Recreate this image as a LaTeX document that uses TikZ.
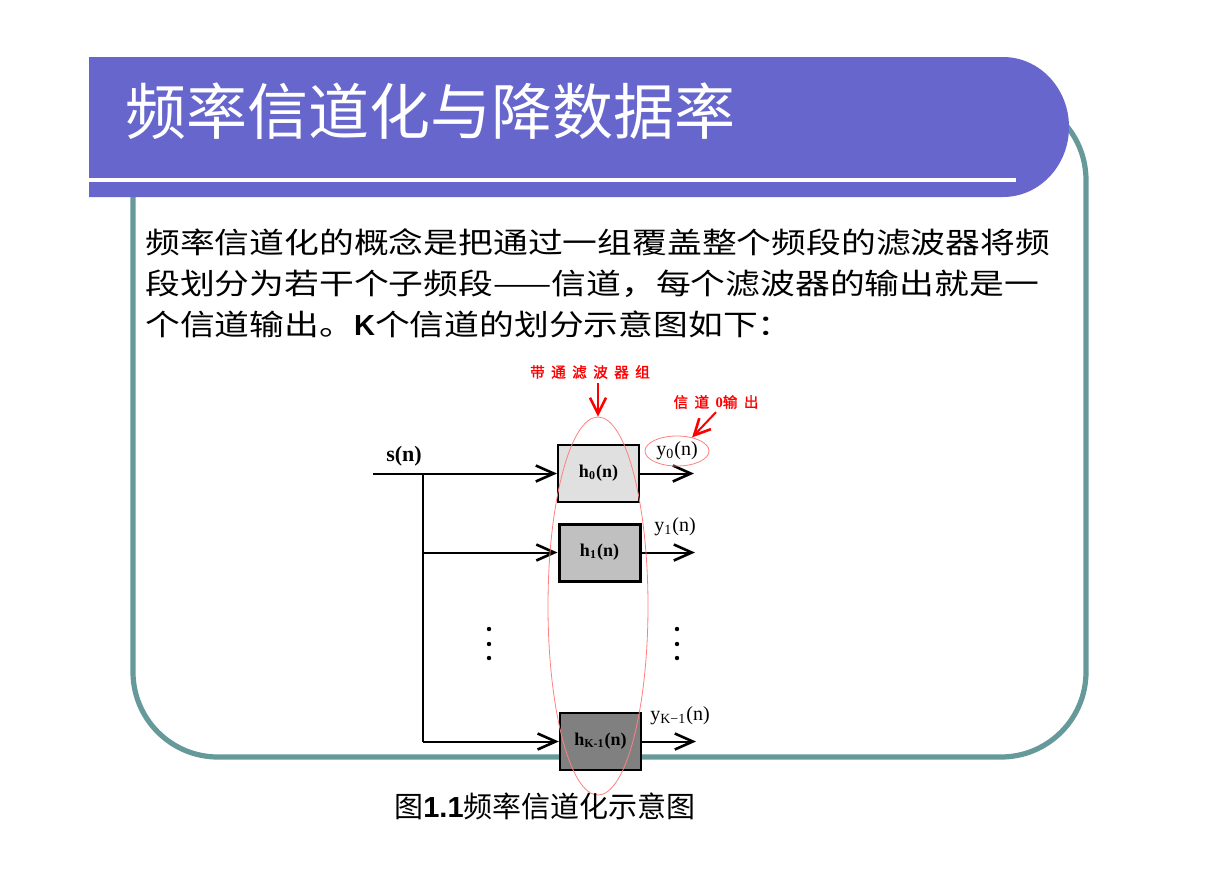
\documentclass[tikz,border=0pt]{standalone}
\usepackage{fontspec}
\setmainfont{Liberation Serif}
\newfontfamily\cjk{Noto Sans CJK SC}
\newfontfamily\cjkw[FakeStretch=1.2]{Noto Sans CJK SC}
\newfontfamily\cjkb[FakeBold=1.6]{Noto Sans CJK SC}
\newfontfamily\lsans{Liberation Sans}
\usetikzlibrary{arrows.meta,shapes.geometric}
\definecolor{barblue}{HTML}{6666CC}
\definecolor{frameteal}{HTML}{669999}
\definecolor{lightred}{HTML}{FF8080}
\definecolor{boxa}{HTML}{E0E0E0}
\definecolor{boxb}{HTML}{C0C0C0}
\definecolor{boxc}{HTML}{808080}
\newcommand{\rg}{\hspace{3.2pt}}
\begin{document}
\begin{tikzpicture}[x=0.5pt,y=-0.5pt,
  filt/.style={draw=black, line width=1.2pt, minimum width=40.5pt, minimum height=28.5pt, inner sep=0pt, font=\fontsize{9}{10}\selectfont\bfseries},
  sig/.style={line width=1pt, -{Straight Barb[length=9pt,width=8pt,line width=1.3pt]}},
  wire/.style={line width=1pt},
  outlbl/.style={inner sep=0pt, font=\fontsize{10}{12}\selectfont},
  redlbl/.style={inner sep=0pt, text=red, font=\fontsize{7.3}{8}\selectfont\cjkb},
  redarrow/.style={red, line width=1pt, -{Straight Barb[length=8pt,width=8pt,line width=1.3pt]}},
  bodyline/.style={anchor=west, inner sep=0pt, font=\fontsize{14.5}{17}\selectfont\cjkw},
  dotc/.style={fill=black}
]
\useasboundingbox (0,0) rectangle (1228,869);
% frame
\draw[frameteal, line width=2.6pt, rounded corners=42.5pt] (133,95) rectangle (1086,757);
% title bar
\fill[barblue] (89,57) -- (1003,57) arc[start angle=-90, end angle=90, x radius=66, y radius=70] -- (89,197) -- cycle;
\fill[white] (89,178) rectangle (1016,182);
\node[anchor=west, inner sep=0pt, text=white, font=\fontsize{30.5}{34}\selectfont\cjk] (title) at (125,111) {频率信道化与降数据率};
% body text
\node[bodyline] (l1) at (145,242) {频率信道化的概念是把通过一组覆盖整个频段的滤波器将频};
\node[bodyline] (l2) at (145,284) {段划分为若干个子频段——信道，每个滤波器的输出就是一};
\node[bodyline] (l3) at (145,324) {个信道输出。{\lsans\bfseries\fontsize{14.5}{17}\selectfont K}个信道的划分示意图如下：};
% filters
\node[filt, fill=boxa, line width=1pt] (h0) at (598.5,473.5) {h\textsubscript{0}(n)};
\node[filt, fill=boxb, line width=1.5pt] (h1) at (599.5,552.5) {h\textsubscript{1}(n)};
\node[filt, fill=boxc, line width=1.2pt] (hK) at (600.5,741.5) {h\textsubscript{K-1}(n)};
% input
\node[inner sep=0pt, font=\fontsize{11}{12}\selectfont\bfseries] (sn) at (404,456) {s(n)};
\coordinate (in) at (373,473.5);
\coordinate (j0) at (423,473.5);
\coordinate (j1) at (423,552.5);
\coordinate (jK) at (423,741.5);
\draw[sig] (in) -- (h0.west);
\draw[wire] (j0) -- (jK);
\draw[sig] (j1) -- (h1.west);
\draw[sig] (jK) -- (hK.west);
% outputs
\coordinate (o0) at (694,473.5);
\coordinate (o1) at (695,552.5);
\coordinate (oK) at (696,741.5);
\draw[sig] (h0.east) -- (o0);
\draw[sig] (h1.east) -- (o1);
\draw[sig] (hK.east) -- (oK);
\node[outlbl, ellipse, draw=lightred, line width=0.4pt, minimum width=32pt, minimum height=15pt] (y0) at (677,451) {y\textsubscript{0}(n)};
\node[outlbl] (y1) at (675,527) {y\textsubscript{1}(n)};
\node[outlbl] (yK) at (680,716) {y\textsubscript{K−1}(n)};
% dots
\fill[dotc] (489,629) circle[radius=2.2];
\fill[dotc] (489,644) circle[radius=2.2];
\fill[dotc] (489,658) circle[radius=2.2];
\fill[dotc] (677,629) circle[radius=2.2];
\fill[dotc] (677,644) circle[radius=2.2];
\fill[dotc] (677,658) circle[radius=2.2];
% filter bank ellipse
\node[ellipse, draw=lightred, line width=0.4pt, minimum width=50pt, minimum height=189pt, inner sep=0pt] (bank) at (598,606) {};
% red labels
\node[redlbl] (banklbl) at (590,372) {带\rg 通\rg 滤\rg 波\rg 器\rg 组};
\node[redlbl] (ch0lbl) at (716,402) {信\rg 道\rg{\fontspec{Liberation Serif}\bfseries 0}输\rg 出};
\draw[redarrow] (banklbl.south -| bank.north) ++(0,4) -- (bank.north);
\draw[redarrow] (ch0lbl.south) ++(0,3) -- (y0.42);
% caption
\node[inner sep=0pt, font=\fontsize{14.5}{17}\selectfont] (cap) at (545,806) {{\cjk 图}{\lsans\bfseries 1.1}{\cjk 频率信道化示意图}};
\end{tikzpicture}
\end{document}
